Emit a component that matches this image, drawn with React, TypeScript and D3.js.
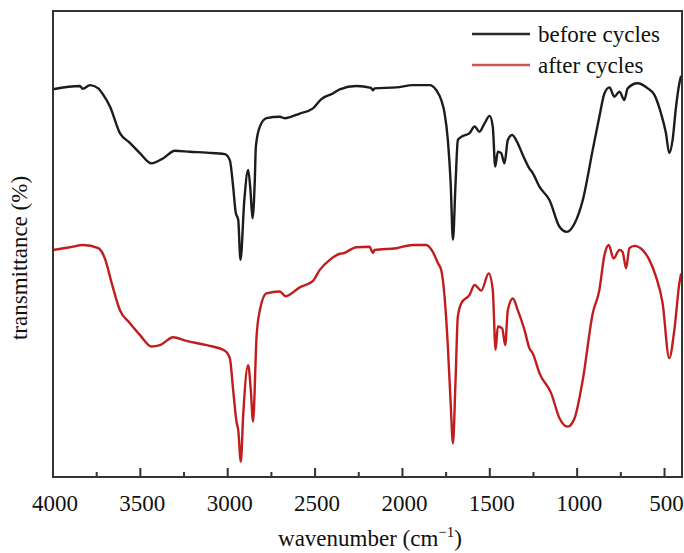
import React from "react";
import * as d3 from "d3";

// wavenumber (cm-1), transmittance (arbitrary %)
const beforeWn = [4000, 3846, 3830, 3788, 3741, 3712, 3674, 3617, 3560, 3503, 3436, 3369, 3302, 3217, 3121, 3017, 2988, 2969, 2954, 2940, 2927, 2905, 2883, 2870, 2858, 2845, 2839, 2816, 2778, 2702, 2674, 2588, 2512, 2464, 2398, 2359, 2264, 2180, 2169, 2160, 2035, 1940, 1844, 1806, 1778, 1759, 1740, 1724, 1711, 1696, 1683, 1663, 1616, 1587, 1559, 1530, 1501, 1483, 1469, 1454, 1435, 1416, 1397, 1372, 1340, 1311, 1273, 1254, 1216, 1158, 1101, 1059, 1015, 968, 911, 873, 844, 815, 787, 758, 730, 711, 654, 596, 558, 520, 492, 473, 454, 434, 415, 405];
const beforeT = [83.2, 83.9, 83.3, 84.1, 83.4, 82.0, 79.5, 73.8, 71.7, 69.5, 67.3, 68.4, 70.0, 69.8, 69.6, 69.3, 68.0, 62.3, 56.7, 55.2, 46.6, 59.4, 65.9, 61.6, 55.5, 63.7, 70.9, 75.2, 77.0, 77.3, 77.0, 78.0, 79.1, 81.1, 82.3, 83.2, 83.9, 83.5, 83.0, 83.4, 83.6, 84.1, 84.1, 83.0, 80.9, 78.1, 72.3, 63.1, 50.9, 63.1, 72.3, 73.0, 73.8, 75.2, 74.1, 75.9, 77.5, 75.2, 66.6, 69.8, 69.5, 67.3, 72.3, 73.4, 71.6, 69.1, 66.2, 65.2, 62.3, 59.4, 53.7, 52.6, 54.4, 59.4, 70.2, 77.3, 82.3, 83.6, 81.6, 82.7, 80.9, 83.4, 84.5, 83.4, 82.0, 78.0, 73.8, 69.5, 72.3, 79.5, 84.5, 86.1];

const afterWn = [4000, 3903, 3827, 3741, 3703, 3664, 3617, 3560, 3503, 3436, 3388, 3312, 3236, 3121, 3017, 2988, 2969, 2950, 2940, 2925, 2912, 2883, 2868, 2855, 2835, 2816, 2778, 2702, 2668, 2588, 2512, 2474, 2416, 2359, 2340, 2264, 2188, 2169, 2160, 2035, 1940, 1864, 1826, 1797, 1778, 1759, 1740, 1724, 1711, 1696, 1683, 1663, 1616, 1587, 1549, 1506, 1483, 1467, 1454, 1429, 1412, 1397, 1368, 1340, 1301, 1273, 1254, 1216, 1149, 1101, 1054, 1015, 968, 911, 873, 844, 819, 792, 758, 740, 720, 701, 672, 625, 587, 549, 511, 473, 444, 415, 405];
const afterT = [48.7, 49.3, 49.8, 49.1, 46.9, 41.6, 35.8, 33.0, 30.5, 28.0, 28.3, 30.0, 29.2, 28.3, 27.1, 25.5, 18.7, 11.9, 10.1, 3.3, 12.9, 24.0, 18.7, 11.9, 30.1, 35.8, 39.4, 39.8, 38.8, 40.7, 42.1, 44.4, 46.6, 47.9, 48.0, 49.3, 49.4, 48.1, 48.7, 49.1, 49.8, 49.8, 48.3, 45.9, 44.4, 38.7, 28.0, 15.8, 7.2, 20.8, 34.4, 37.3, 39.1, 41.2, 40.0, 43.7, 40.1, 27.3, 32.3, 31.9, 28.3, 35.8, 38.3, 35.8, 31.5, 27.6, 26.5, 22.3, 18.0, 12.6, 10.8, 12.6, 20.8, 35.1, 40.1, 47.6, 49.8, 46.9, 48.7, 48.3, 44.8, 49.1, 49.6, 48.7, 46.6, 43.0, 37.3, 25.5, 31.5, 41.6, 43.7];

const xTicks = [4000, 3500, 3000, 2500, 2000, 1500, 1000, 500];
const xMinorTicks = [3750, 3250, 2750, 2250, 1750, 1250, 750];

const seriesNames = ["before cycles", "after cycles"];
const seriesColors = ["#1c1c1c", "#c01e1e"];
const legendColors = ["#2a2a2a", "#cc5555"];

const W = 684;
const H = 553;
const left = 53;
const right = 682;
const top = 11;
const bottom = 477;
const FONT = "'Liberation Serif', 'Times New Roman', serif";

export default function App() {
  const x = d3.scaleLinear().domain([4000, 400]).range([left, right]);
  const y = d3.scaleLinear().domain([0, 100]).range([bottom, top]);

  const line = d3
    .line<[number, number]>()
    .x((d) => x(d[0]))
    .y((d) => y(d[1]))
    .curve(d3.curveMonotoneX);

  const series = [
    beforeWn.map((w, i) => [w, beforeT[i]] as [number, number]),
    afterWn.map((w, i) => [w, afterT[i]] as [number, number]),
  ];

  return (
    <svg
      width={W}
      height={H}
      style={{ position: "absolute", left: 0, top: 0, background: "#fff" }}
      fontFamily={FONT}
    >
      {series.map((s, i) => (
        <path
          key={i}
          d={line(s) || ""}
          fill="none"
          stroke={seriesColors[i]}
          strokeWidth={2.4}
          strokeLinejoin="round"
        />
      ))}

      {/* frame */}
      <rect
        x={left}
        y={top}
        width={right - left}
        height={bottom - top}
        fill="none"
        stroke="#333"
        strokeWidth={2}
      />

      {/* ticks point inward from the bottom axis */}
      {xTicks.map((t) => (
        <line key={"M" + t} x1={x(t)} x2={x(t)} y1={bottom} y2={bottom - 9} stroke="#333" strokeWidth={2} />
      ))}
      {xMinorTicks.map((t) => (
        <line key={"m" + t} x1={x(t)} x2={x(t)} y1={bottom} y2={bottom - 5} stroke="#333" strokeWidth={2} />
      ))}
      {xTicks.map((t) => (
        <text key={"l" + t} x={x(t) + 2} y={511} textAnchor="middle" fontSize={23} fill="#111">
          {t}
        </text>
      ))}

      <text x={370} y={546} textAnchor="middle" fontSize={23} fill="#111">
        wavenumber (cm
        <tspan fontSize={15} dy={-9}>−1</tspan>
        <tspan dy={9}>)</tspan>
      </text>

      <text
        transform={`translate(27,258) rotate(-90)`}
        textAnchor="middle"
        fontSize={23}
        fill="#111"
      >
        transmittance (%)
      </text>

      {/* legend */}
      {seriesNames.map((n, i) => (
        <g key={n} transform={`translate(0, ${34 + i * 31})`}>
          <line x1={472} x2={530} y1={0} y2={0} stroke={legendColors[i]} strokeWidth={2.5} />
          <text x={538} y={7.5} fontSize={23} fill="#111">
            {n}
          </text>
        </g>
      ))}
    </svg>
  );
}
